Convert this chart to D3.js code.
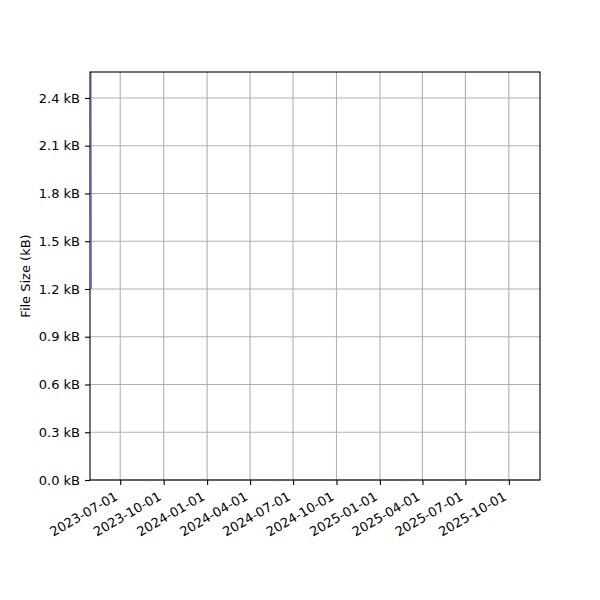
<!DOCTYPE html>
<html>
<head>
<meta charset="utf-8">
<script src="https://cdn.jsdelivr.net/npm/d3@7"></script>
<style>
  body { margin: 0; background: #fff; }
  text { font-family: "DejaVu Sans", sans-serif; fill: #000; }
</style>
</head>
<body>
<svg></svg>
<script>
let width = 600,
height = 600,
margin = {top: 72, right: 60, bottom: 120, left: 90};

// the only visible data: a steep segment right at the left edge
let dates = ["2023-04-27", "2023-04-28"];
let sizes = [2.9, 1.2];

let xDomain = ["2023-04-28", "2025-12-06"];
let yMax = 2.563;
let xTicks = ["2023-07-01", "2023-10-01", "2024-01-01", "2024-04-01", "2024-07-01",
  "2024-10-01", "2025-01-01", "2025-04-01", "2025-07-01", "2025-10-01"];
let yTicks = [0, 0.3, 0.6, 0.9, 1.2, 1.5, 1.8, 2.1, 2.4];

let parse = d3.utcParse("%Y-%m-%d");
let fmt = d3.utcFormat("%Y-%m-%d");

let svg = d3.select("svg")
  .attr("width", width)
  .attr("height", height);

let xScale = d3.scaleUtc()
  .domain(xDomain.map(parse))
  .range([margin.left, width - margin.right]);
let yScale = d3.scaleLinear()
  .domain([0, yMax])
  .range([height - margin.bottom, margin.top]);

svg.append("defs").append("clipPath")
  .attr("id", "clip")
  .append("rect")
  .attr("x", margin.left)
  .attr("y", margin.top)
  .attr("width", width - margin.left - margin.right)
  .attr("height", height - margin.top - margin.bottom);

// grid
svg.append("g")
  .selectAll("line")
  .data(xTicks.map(parse))
  .enter()
  .append("line")
  .attr("x1", d => xScale(d)).attr("x2", d => xScale(d))
  .attr("y1", margin.top).attr("y2", height - margin.bottom)
  .attr("stroke", "#b0b0b0").attr("stroke-width", 1.1);

svg.append("g")
  .selectAll("line")
  .data(yTicks)
  .enter()
  .append("line")
  .attr("x1", margin.left).attr("x2", width - margin.right)
  .attr("y1", d => yScale(d)).attr("y2", d => yScale(d))
  .attr("stroke", "#b0b0b0").attr("stroke-width", 1.1);

// data line
let line = d3.line()
  .x((d, i) => xScale(parse(dates[i])) + 1.5)
  .y(d => yScale(d));

svg.append("path")
  .datum(sizes)
  .attr("clip-path", "url(#clip)")
  .attr("fill", "none")
  .attr("stroke", "#7070f5")
  .attr("stroke-width", 1)
  .attr("d", line);

// axes
let xAxis = d3.axisBottom(xScale)
  .tickValues(xTicks.map(parse))
  .tickFormat(fmt)
  .tickSize(5)
  .tickPadding(4);

let gx = svg.append("g")
  .attr("transform", `translate(0, ${height - margin.bottom})`)
  .call(xAxis);
gx.select(".domain").remove();
gx.selectAll("line").attr("stroke-width", 1.1);
gx.selectAll("text")
  .attr("font-size", 13)
  .attr("text-anchor", "end")
  .attr("dy", null)
  .attr("y", null)
  .attr("transform", "translate(-2, 19) rotate(-30)");

let yAxis = d3.axisLeft(yScale)
  .tickValues(yTicks)
  .tickFormat(d => d3.format(".1f")(d) + " kB")
  .tickSize(5)
  .tickPadding(5);

let gy = svg.append("g")
  .attr("transform", `translate(${margin.left}, 0)`)
  .call(yAxis);
gy.select(".domain").remove();
gy.selectAll("line").attr("stroke-width", 1.1);
gy.selectAll("text").attr("font-size", 13);

// frame
svg.append("rect")
  .attr("x", margin.left)
  .attr("y", margin.top)
  .attr("width", width - margin.left - margin.right)
  .attr("height", height - margin.top - margin.bottom)
  .attr("fill", "none")
  .attr("stroke", "#000")
  .attr("stroke-width", 1.1);

svg.append("text")
  .attr("transform", `translate(30, ${(margin.top + height - margin.bottom) / 2}) rotate(-90)`)
  .attr("text-anchor", "middle")
  .attr("font-size", 13)
  .text("File Size (kB)");
</script>
</body>
</html>
